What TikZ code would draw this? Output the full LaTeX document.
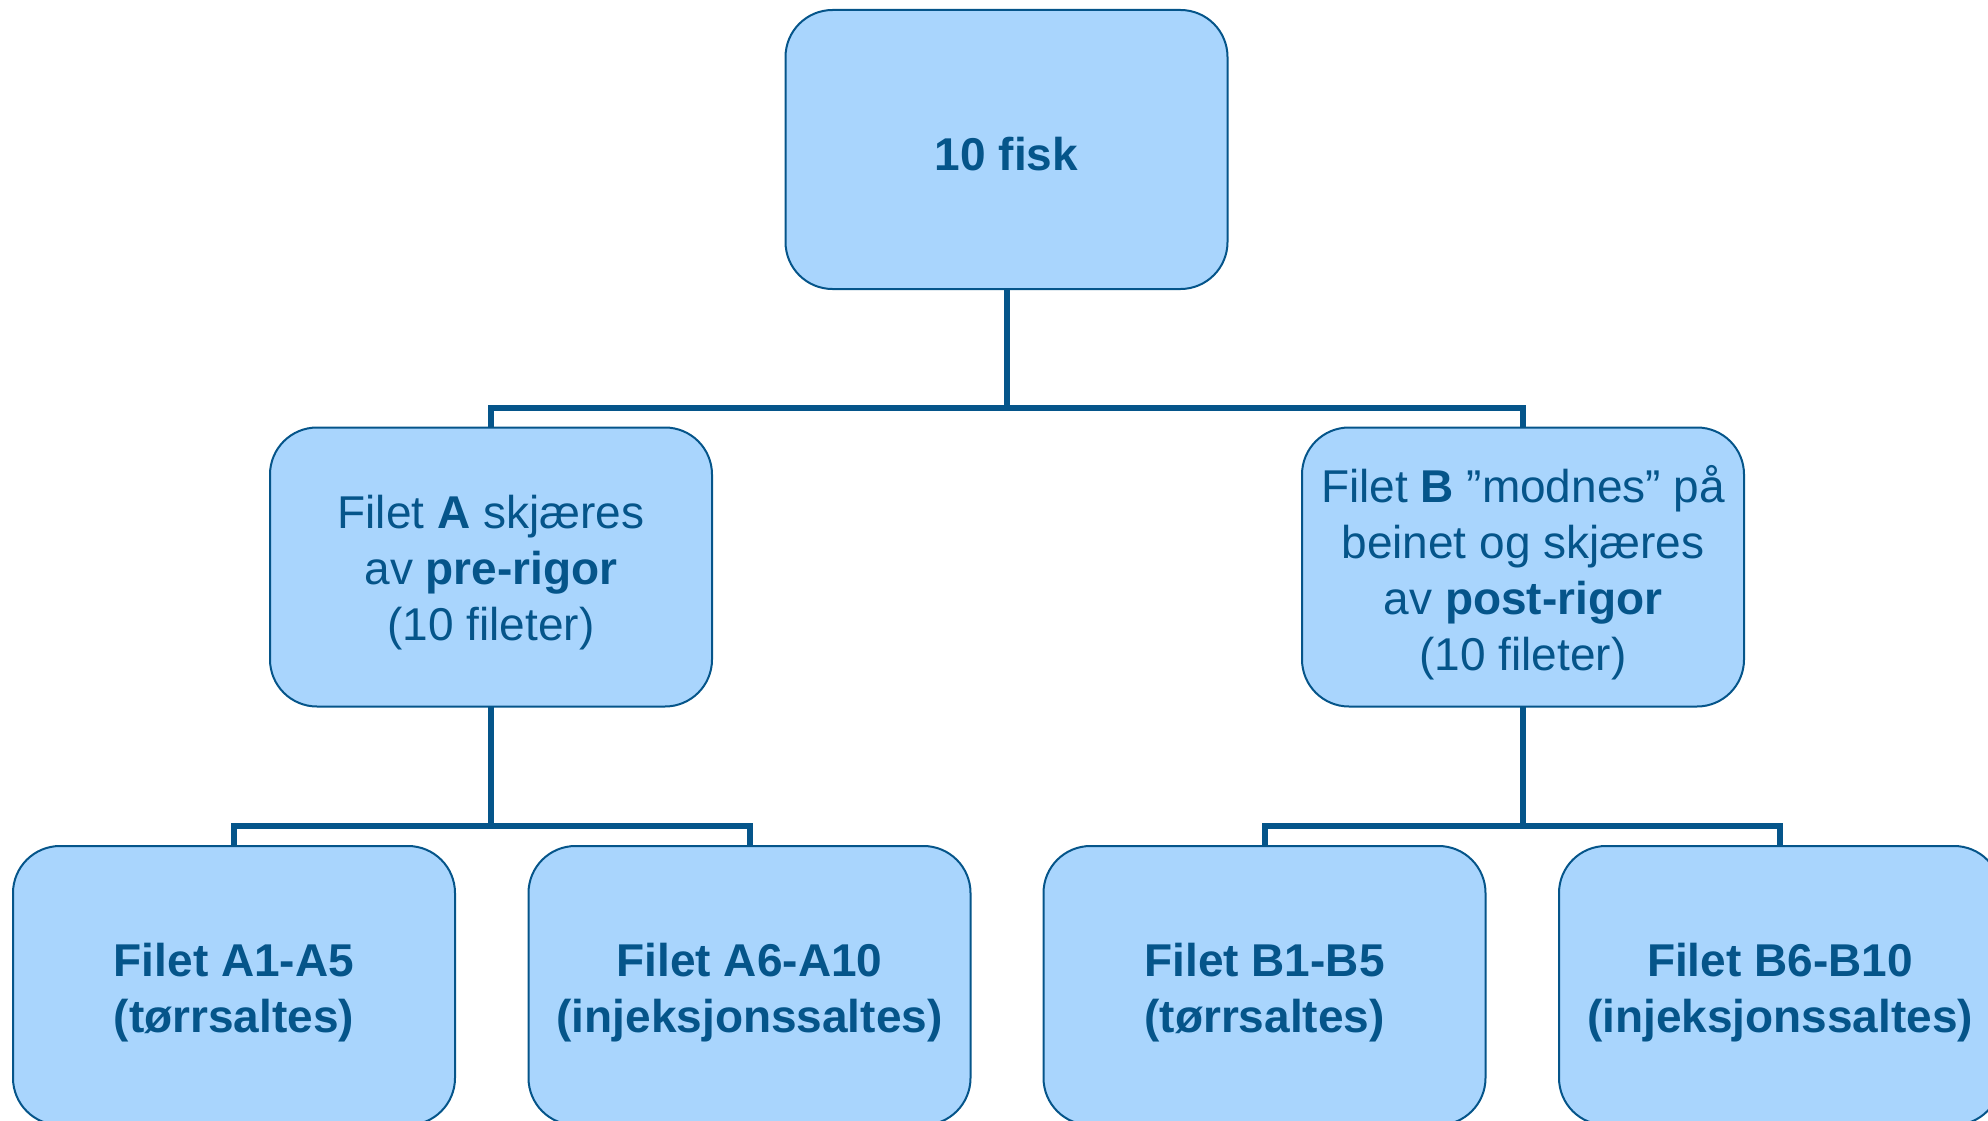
\documentclass[tikz,border=0pt]{standalone}
\usepackage{fontspec}
\setmainfont{Liberation Sans}
\definecolor{boxfill}{RGB}{169,213,253}
\definecolor{ink}{RGB}{5,85,138}
% centred lines of a box; the extra head room sets them a little low
\newcommand{\boxlines}[2][16pt]{\raisebox{0pt}[\dimexpr\height+#1\relax][\depth]{\begin{tabular}{@{}c@{}}#2\end{tabular}}}
\begin{document}
\begin{tikzpicture}[x=1pt,y=-1pt,
  box/.style={draw=ink, line width=2pt, fill=boxfill, rounded corners=47pt,
    minimum width=442pt, minimum height=279pt, text=ink, inner sep=0pt,
    font=\fontsize{46}{56}\selectfont},
  conn/.style={draw=ink, line width=6pt, line join=miter}]
\useasboundingbox (0,0) rectangle (1988,1121);
\clip (0,0) rectangle (1988,1121);

% bus levels of the tree
\coordinate (busTop) at (1006.5,408);
\coordinate (busA) at (491,826);
\coordinate (busB) at (1523,826);

% connectors (drawn first, boxes sit on top)
\draw[conn] (1006.5,289) -- (busTop);
\draw[conn] (491,428) |- (busTop) -| (1523,428);
\draw[conn] (491,706) -- (busA);
\draw[conn] (234,846) |- (busA) -| (749.5,846);
\draw[conn] (1523,706) -- (busB);
\draw[conn] (1264.5,846) |- (busB) -| (1780,846);

% boxes
\node[box] (top) at (1006.5,149.5) {\boxlines[20pt]{\textbf{10 fisk}}};
\node[box] (A) at (491,567) {\boxlines[13pt]{Filet \textbf{A} skjæres\\av \textbf{pre-rigor}\\(10 fileter)}};
\node[box] (B) at (1523,567) {\boxlines{Filet \textbf{B} ”modnes” på\\beinet og skjæres\\av \textbf{post-rigor}\\(10 fileter)}};
\node[box] (A1) at (234,985.5) {\boxlines{\textbf{Filet A1-A5}\\\textbf{(tørrsaltes)}}};
\node[box] (A6) at (749.5,985.5) {\boxlines{\textbf{Filet A6-A10}\\\textbf{(injeksjonssaltes)}}};
\node[box] (B1) at (1264.5,985.5) {\boxlines{\textbf{Filet B1-B5}\\\textbf{(tørrsaltes)}}};
\node[box] (B6) at (1780,985.5) {\boxlines{\textbf{Filet B6-B10}\\\textbf{(injeksjonssaltes)}}};
\end{tikzpicture}
\end{document}
